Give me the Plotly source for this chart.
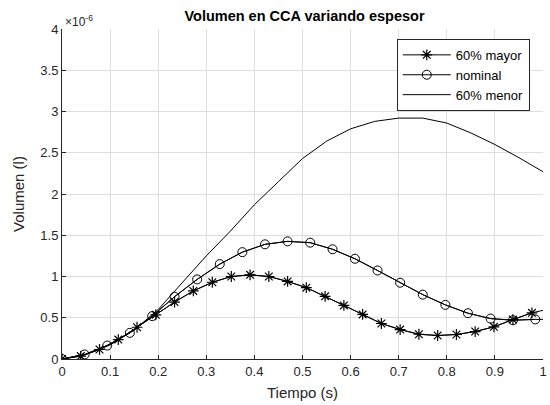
import plotly.graph_objects as go

# Time axis values (s)
t_mayor = [0, 0.039, 0.078, 0.117, 0.156, 0.195, 0.234, 0.273, 0.3125, 0.352,
           0.391, 0.430, 0.469, 0.508, 0.547, 0.586, 0.625, 0.664, 0.703, 0.742,
           0.781, 0.820, 0.859, 0.898, 0.9375, 0.977, 1.0]
v_mayor = [0, 0.035, 0.115, 0.235, 0.385, 0.535, 0.69, 0.825, 0.93, 1.0,
           1.02, 1.0, 0.94, 0.865, 0.76, 0.65, 0.54, 0.43, 0.357, 0.30,
           0.285, 0.297, 0.333, 0.39, 0.478, 0.56, 0.59]
mk_mayor = 26  # number of points carrying a marker

t_nominal = [0, 0.047, 0.094, 0.141, 0.1875, 0.234, 0.281, 0.328, 0.375, 0.422,
             0.469, 0.516, 0.5625, 0.609, 0.656, 0.703, 0.75, 0.797, 0.844, 0.891,
             0.9375, 0.984, 1.0]
v_nominal = [0, 0.055, 0.163, 0.317, 0.52, 0.755, 0.965, 1.15, 1.295, 1.39,
             1.426, 1.41, 1.33, 1.215, 1.073, 0.925, 0.78, 0.656, 0.555, 0.49,
             0.47, 0.48, 0.48]
mk_nominal = 22

t_menor = [0, 0.05, 0.1, 0.15, 0.2, 0.25, 0.3, 0.35, 0.4, 0.45, 0.5, 0.55, 0.6,
           0.65, 0.7, 0.75, 0.8, 0.85, 0.9, 0.95, 1.0]
v_menor = [0, 0.055, 0.17, 0.35, 0.6, 0.93, 1.25, 1.55, 1.87, 2.15, 2.43, 2.64,
           2.79, 2.88, 2.92, 2.92, 2.86, 2.74, 2.60, 2.44, 2.27]

x_ticks = [0, 0.1, 0.2, 0.3, 0.4, 0.5, 0.6, 0.7, 0.8, 0.9, 1]
x_tick_text = ["0", "0.1", "0.2", "0.3", "0.4", "0.5", "0.6", "0.7", "0.8", "0.9", "1"]
y_ticks = [0, 0.5, 1, 1.5, 2, 2.5, 3, 3.5, 4]
y_tick_text = ["0", "0.5", "1", "1.5", "2", "2.5", "3", "3.5", "4"]

FONT = "Liberation Sans, Arial, sans-serif"
AX = "#262626"

fig = go.Figure()

# full lines (no legend)
fig.add_trace(go.Scatter(x=t_mayor, y=v_mayor, mode="lines",
                         line=dict(color="black", width=1), showlegend=False,
                         hoverinfo="skip"))
fig.add_trace(go.Scatter(x=t_nominal, y=v_nominal, mode="lines",
                         line=dict(color="black", width=1), showlegend=False,
                         hoverinfo="skip"))

fig.add_trace(go.Scatter(x=t_mayor[:mk_mayor], y=v_mayor[:mk_mayor],
                         mode="lines+markers", name="60% mayor",
                         line=dict(color="black", width=1),
                         marker=dict(symbol="asterisk-open", size=9,
                                     color="black",
                                     line=dict(color="black", width=1.2))))
fig.add_trace(go.Scatter(x=t_nominal[:mk_nominal], y=v_nominal[:mk_nominal],
                         mode="lines+markers", name="nominal",
                         line=dict(color="black", width=1),
                         marker=dict(symbol="circle-open", size=9,
                                     color="black",
                                     line=dict(color="black", width=1))))
fig.add_trace(go.Scatter(x=t_menor, y=v_menor, mode="lines", name="60% menor",
                         line=dict(color="black", width=1)))

fig.update_layout(
    width=550, height=405,
    margin=dict(l=62, r=3, t=29, b=46),
    paper_bgcolor="white", plot_bgcolor="white",
    font=dict(family=FONT, size=13, color=AX),
    title=dict(text="<b>Volumen en CCA variando espesor</b>",
               x=304.5 / 550, xref="container", xanchor="center",
               y=1 - 16 / 405, yref="container", yanchor="middle",
               font=dict(family=FONT, size=14.5, color="black")),
    legend=dict(x=0.696, y=0.97, xanchor="left", yanchor="top",
                bgcolor="white", bordercolor=AX, borderwidth=1,
                font=dict(family=FONT, size=13, color="black"),
                tracegroupgap=0, itemwidth=48),
    xaxis=dict(range=[0, 1], tickvals=x_ticks, ticktext=x_tick_text,
               showgrid=True, gridcolor="#dedede", gridwidth=1,
               zeroline=False, showline=True, linecolor=AX, linewidth=1,
               ticks="inside", ticklen=4, tickcolor=AX,
               ticklabeloverflow="allow",
               title=dict(text="Tiempo (s)", font=dict(size=15, color=AX),
                          standoff=9),
               tickfont=dict(size=13, color=AX)),
    yaxis=dict(range=[0, 4], tickvals=y_ticks, ticktext=y_tick_text,
               showgrid=True, gridcolor="#dedede", gridwidth=1,
               zeroline=False, showline=True, linecolor=AX, linewidth=1,
               ticks="inside", ticklen=4, tickcolor=AX,
               ticklabeloverflow="allow",
               title=dict(text="Volumen (l)", font=dict(size=15, color=AX),
                          standoff=12),
               tickfont=dict(size=13, color=AX)),
    annotations=[dict(text="×10<sup>-6</sup>", xref="paper", yref="paper",
                      x=0, y=1, xanchor="left", yanchor="bottom",
                      xshift=1, yshift=-2, showarrow=False,
                      font=dict(family=FONT, size=12, color=AX))],
)

fig.write_html("out.html")
